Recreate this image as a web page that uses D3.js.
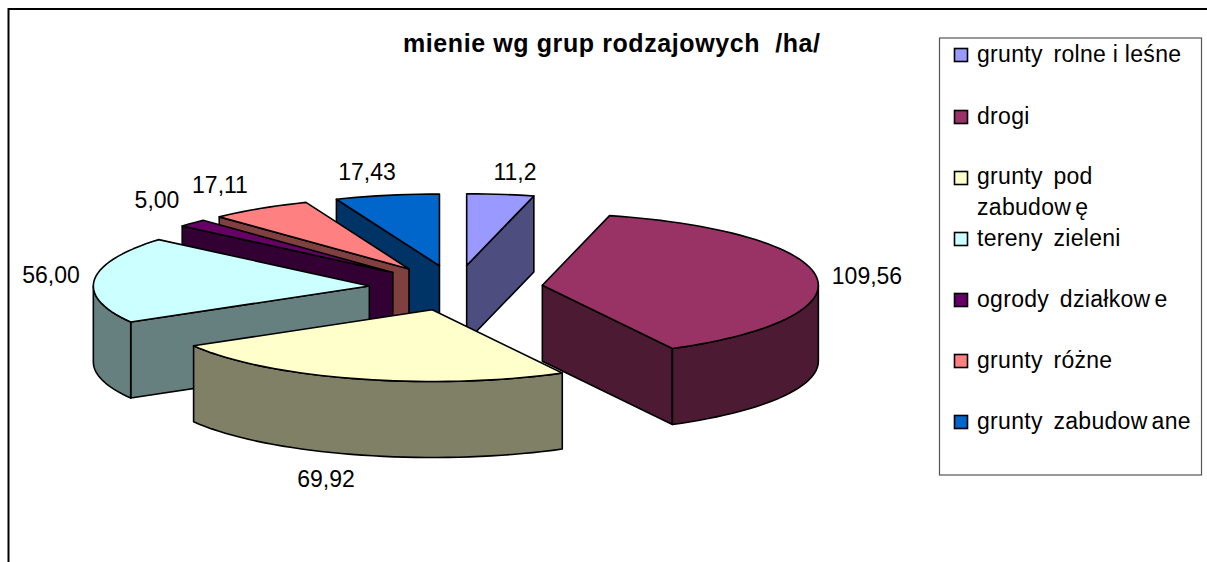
<!DOCTYPE html>
<html><head><meta charset="utf-8">
<script src="https://cdn.jsdelivr.net/npm/d3@7"></script>
<style>html,body{margin:0;padding:0;background:#fff}svg{display:block}text{font-family:"Liberation Sans",Arial,sans-serif;fill:#000}</style>
</head><body><svg id="c" width="1207" height="562"></svg>
<script>
const categories=["grunty rolne i leśne","drogi","grunty pod zabudowę","tereny zieleni","ogrody działkowe","grunty różne","grunty zabudowane"];
const values=[11.2,109.56,69.92,56,5,17.11,17.43];
const valueLabels=["11,2","109,56","69,92","56,00","5,00","17,11","17,43"];
const topColors=["#9999FF","#993366","#FFFFCC","#CCFFFF","#660066","#FF8080","#0066CC"];
const sideColors=["#4D4D80","#4D1A33","#808066","#668080","#330033","#804040","#003366"];
const drawOrder=[6,5,4,0,3,1,2];
const labelPos=[[515,180],[867,284],[326,487],[51,283],[157,208],[220,193],[367,180]];
const legendSwatchY=[55,117,178,239,300,361,422];

const svg=d3.select("#c");
svg.append("path").attr("d","M8.5,562V9H1207").attr("fill","none").attr("stroke","#000").attr("stroke-width",2);

const cx=456,cy=288,R=276,K=0.26,H=76,EXPLODE=87;
const sx=d3.scaleLinear().domain([-1,1]).range([cx-R,cx+R]);
const sy=d3.scaleLinear().domain([-1,1]).range([cy-R*K,cy+R*K]);
const arcs=d3.pie().sort(null).value(d=>d)(values);
const line=d3.line().x(d=>d[0]).y(d=>d[1]);
const g=svg.append("g");
function pt(th,off){return [sx(Math.sin(th))+off[0],sy(-Math.cos(th))+off[1]];}
function sample(a,b){const n=Math.max(2,Math.ceil((b-a)/0.04));return d3.range(n+1).map(i=>a+(b-a)*i/n);}
drawOrder.forEach(i=>{
  const s=arcs[i],a=s.startAngle,b=s.endAngle,m=(a+b)/2;
  const off=[sx(Math.sin(m)*EXPLODE/R)-cx,sy(-Math.cos(m)*EXPLODE/R)-cy];
  const apex=[cx+off[0],cy+off[1]];
  const wall=p=>g.append("path").attr("d",line(p)+"Z").attr("fill",sideColors[i]).attr("stroke","#000").attr("stroke-width",1.6).attr("stroke-linejoin","round");
  const down=p=>[p[0],p[1]+H];
  if(Math.sin(a)<0){const e=pt(a,off);wall([apex,e,down(e),down(apex)]);}
  if(Math.sin(b)>0){const e=pt(b,off);wall([apex,e,down(e),down(apex)]);}
  const lo=Math.max(a,Math.PI/2),hi=Math.min(b,Math.PI*1.5);
  if(hi>lo){const rim=sample(lo,hi).map(t=>pt(t,off));wall(rim.concat(rim.slice().reverse().map(down)));}
  const top=[apex].concat(sample(a,b).map(t=>pt(t,off)));
  g.append("path").attr("d",line(top)+"Z").attr("fill",topColors[i]).attr("stroke","#000").attr("stroke-width",1.6).attr("stroke-linejoin","round");
});

svg.selectAll("text.v").data(valueLabels).join("text").attr("class","v")
 .attr("x",(d,i)=>labelPos[i][0]).attr("y",(d,i)=>labelPos[i][1]).attr("text-anchor","middle").attr("font-size",23).text(d=>d);

svg.append("text").attr("x",403).attr("y",52).attr("font-size",25).attr("font-weight","bold").style("white-space","pre").attr("textLength",417).attr("lengthAdjust","spacing").text("mienie wg grup rodzajowych  /ha/");

svg.append("rect").attr("x",939.5).attr("y",38).attr("width",262).attr("height",437).attr("fill","#fff").attr("stroke","#555").attr("stroke-width",1.2);
// legend text: wider gap after "w" and at word spaces, as in the reference's rendering
function spaced(sel,str){
  sel.attr("font-size",23).attr("letter-spacing",0.3).style("white-space","pre");
  str.split(/(?<=w)(?=[a-zę])|(?<=y)(?= )/).forEach((part,j)=>{
    sel.append("tspan").attr("dx",j?4:null).text(part);
  });
}
categories.forEach((c,i)=>{
  const y=legendSwatchY[i];
  svg.append("rect").attr("x",954.5).attr("y",y-6.5).attr("width",13).attr("height",13).attr("fill",topColors[i]).attr("stroke","#000").attr("stroke-width",1.6);
  if(i===2){
    spaced(svg.append("text").attr("x",977).attr("y",y+6),"grunty pod");
    spaced(svg.append("text").attr("x",977).attr("y",y+37),"zabudowę");
  } else spaced(svg.append("text").attr("x",977).attr("y",y+7),c);
});
</script></body></html>
